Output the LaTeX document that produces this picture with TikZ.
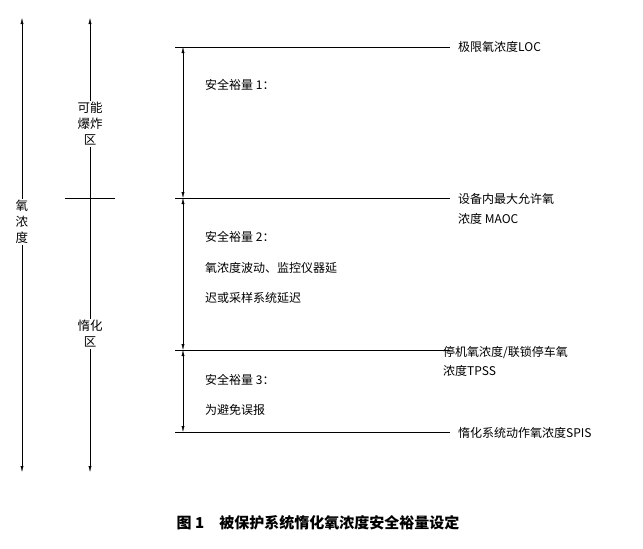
\documentclass[tikz,border=0pt]{standalone}
\usepackage{fontspec}
\setmainfont{Liberation Serif}
\newfontfamily\cjk{Noto Sans CJK SC}
\usetikzlibrary{arrows.meta}
\begin{document}
\begin{tikzpicture}[x=1pt,y=-1pt,
  lbl/.style={anchor=west,font=\cjk\fontsize{12}{14}\selectfont,inner sep=0pt},
  zone/.style={align=center,font=\cjk\fontsize{12.5}{16}\selectfont,fill=white,inner sep=1pt},
  dim/.style={{Latex[length=6pt,width=3pt]}-{Latex[length=6pt,width=3pt]},thin}]
  \useasboundingbox (0,0) rectangle (643,549);
  % axes
  \coordinate (a1) at (22,18);
  \coordinate (a2) at (22,472);
  \coordinate (b1) at (90,18);
  \coordinate (b2) at (90,472);
  \draw[dim] (a1) -- (a2);
  \draw[dim] (b1) -- (b2);
  \draw[thin] (65,198) -- (115,198);
  \node[zone] (nd) at (22,222) {氧\\浓\\度};
  \node[zone] (bz) at (90,124) {可能\\爆炸\\区};
  \node[zone] (dz) at (90,334) {惰化\\区};
  % levels
  \foreach \n/\y in {loc/47, maoc/198, tpss/350, spis/432} {
    \coordinate (\n L) at (175,\y);
    \coordinate (\n R) at (450,\y);
    \coordinate (\n M) at (183,\y);
    \draw[thin] (\n L) -- (\n R);
  }
  \draw[dim] (locM) -- (maocM);
  \draw[dim] (maocM) -- (tpssM);
  \draw[dim] (tpssM) -- (spisM);
  % texts
  \node[lbl] (m1) at (205,85) {安全裕量 1：};
  \node[lbl] (m2) at (205,237) {安全裕量 2：};
  \node[lbl] (m2a) at (205,268) {氧浓度波动、监控仪器延};
  \node[lbl] (m2b) at (205,298) {迟或采样系统延迟};
  \node[lbl] (m3) at (205,380) {安全裕量 3：};
  \node[lbl] (m3a) at (205,410) {为避免误报};
  \node[lbl] (tloc) at (458,47) {极限氧浓度LOC};
  \node[lbl] (tmaoc) at (458,199) {设备内最大允许氧};
  \node[lbl] (tmaoc2) at (458,219) {浓度 MAOC};
  \node[lbl] (ttpss) at (443,352) {停机氧浓度/联锁停车氧};
  \node[lbl] (ttpss2) at (443,371) {浓度TPSS};
  \node[lbl] (tspis) at (458,433) {惰化系统动作氧浓度SPIS};
  \node[font=\cjk\bfseries\fontsize{15}{17}\selectfont] (cap) at (318,523) {图 1\quad 被保护系统惰化氧浓度安全裕量设定};
\end{tikzpicture}
\end{document}
